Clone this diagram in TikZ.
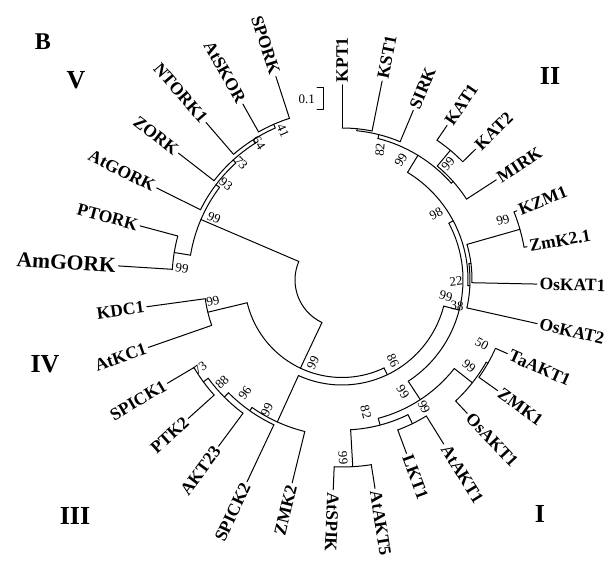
\documentclass[tikz,border=0pt]{standalone}
\usepackage{fontspec}
\setmainfont{Liberation Serif}
\newcommand\Rd[3]{\draw[br] (#1:#2) -- (#1:#3);}
\newcommand\Ar[3]{\draw[br] (#2:#1) arc[start angle=#2,end angle=#3,radius=#1];}
% right-half leaf: name, angle, rnode, rtip, text
\newcommand\LR[5]{\draw[br] (#2:#3) -- (#2:#4);
  \node[leaf,anchor=west,rotate=#2] (#1) at (#2:#4) {#5};}
% left-half leaf: name, angle, rotation, rnode, rtip, text
\newcommand\LL[6]{\draw[br] (#2:#4) -- (#2:#5);
  \node[leaf,anchor=east,rotate=#3] (#1) at (#2:#5) {#6};}
\newcommand\BS[5]{\node[bs,rotate=#4] (#1) at (#2,#3) {#5};}
\begin{document}
\begin{tikzpicture}[x=1pt,y=1pt,
  br/.style={line width=1pt,line cap=round,line join=round},
  leaf/.style={font=\bfseries\fontsize{17.5}{18}\selectfont,inner sep=2.5pt},
  bigleaf/.style={font=\bfseries\fontsize{21.5}{22}\selectfont,inner sep=2.5pt},
  bs/.style={font=\fontsize{13}{13}\selectfont,inner sep=0pt},
  clade/.style={font=\bfseries\fontsize{26}{26}\selectfont,inner sep=0pt}]
\useasboundingbox (0,0) rectangle (616,564);
\begin{scope}[shift={(342,284)}]
% root
\Ar{47}{156.8}{244.75}
\Rd{156.8}{47}{153.5}
\Rd{-115.25}{47}{97.5}
% clade V
\Ar{153.5}{142.9}{170.7}
\Rd{170.7}{153.5}{170}
\Ar{170}{165}{176.4}
\LL{ptork}{165}{345}{170}{209}{PTORK}
\draw[br] (176.4:170) -- (176.4:224);
\node[bigleaf,anchor=east,rotate=356.4] (amgork) at (176.4:224) {AmGORK};
\Rd{142.9}{153.5}{158}
\Ar{158}{132.2}{153.6}
\LL{atgork}{153.6}{333.6}{158}{207}{AtGORK}
\Rd{132.2}{158}{162}
\Ar{162}{122.25}{142.2}
\LL{zork}{142.2}{322.2}{162}{207}{ZORK}
\Rd{122.25}{162}{166}
\Ar{166}{113.7}{130.8}
\LL{ntork}{130.8}{310.8}{166}{208}{NTORK1}
\Rd{113.7}{166}{170}
\Ar{170}{108}{119.4}
\LL{atskor}{119.4}{299.4}{170}{202}{AtSKOR}
\LL{spork}{108}{288}{170}{214}{SPORK}
% B node
\Ar{97.5}{-166.5}{-64.45}
% clade IV
\Rd{-166.5}{97.5}{138}
\Ar{138}{-172.2}{-160.8}
\LL{kdc}{-172.2}{7.8}{138}{197}{KDC1}
\LL{atkc}{-160.8}{19.2}{138}{205}{AtKC1}
% D node
\Rd{-64.45}{97.5}{105}
\Ar{105}{-114.5}{-14.4}
% clade III
\Rd{-114.5}{105}{156}
\Ar{156}{-125.2}{-103.8}
\LL{zmkb}{-103.8}{76.2}{156}{209}{ZMK2}
\Rd{-125.2}{156}{160}
\Ar{160}{-135.15}{-115.2}
\LL{spickb}{-115.2}{64.8}{160}{223}{SPICK2}
\Rd{-135.15}{160}{166}
\Ar{166}{-143.7}{-126.6}
\LL{akt}{-126.6}{53.4}{166}{207}{AKT23}
\Rd{-143.7}{166}{172}
\Ar{172}{-149.4}{-138}
\LL{ptk}{-138}{42}{172}{207}{PTK2}
\LL{spicka}{-149.4}{30.6}{172}{203}{SPICK1}
% E node
\Rd{-14.4}{105}{121}
\Ar{121}{-56.8}{28}
% clade I
\Rd{-56.8}{121}{143}
\Ar{143}{-75.3}{-38.25}
\Rd{-75.3}{143}{150}
\Ar{150}{-86.7}{-63.9}
\Rd{-86.7}{150}{187}
\Ar{187}{-92.4}{-81}
\LR{atspik}{-92.4}{187}{210}{AtSPIK}
\LR{atakt5}{-81}{187}{211}{AtAKT5}
\Rd{-63.9}{150}{160}
\Ar{160}{-69.6}{-58.2}
\LR{lkt}{-69.6}{160}{185}{LKT1}
\LR{atakt1}{-58.2}{160}{193}{AtAKT1}
\Rd{-38.25}{143}{166}
\Ar{166}{-46.8}{-29.7}
\LR{osakt}{-46.8}{166}{183}{OsAKT1}
\Rd{-29.7}{166}{168}
\Ar{168}{-35.4}{-24}
\LR{zmka}{-35.4}{168}{191}{ZMK1}
\LR{taakt}{-24}{168}{181}{TaAKT1}
% clade II
\Rd{28}{121}{126}
\Ar{126}{-2.6}{58.65}
\Rd{-2.6}{126}{128}
\Ar{128}{-12.6}{7.35}
\LR{oskatb}{-12.6}{128}{200}{OsKAT2}
\Rd{7.35}{128}{130}
\Ar{130}{-1.2}{15.9}
\LR{oskata}{-1.2}{130}{195}{OsKAT1}
\Rd{15.9}{130}{185}
\Ar{185}{10.2}{21.6}
\LR{kzm}{21.6}{185}{188}{KZM1}
\LR{zmk21}{10.2}{185}{188}{ZmK2.1}
\Rd{58.65}{126}{146}
\Ar{146}{41.55}{75.75}
\Rd{41.55}{146}{148.5}
\Ar{148.5}{33}{50.1}
\LR{mirk}{33}{148.5}{184}{MIRK}
\Rd{50.1}{148.5}{169}
\Ar{169}{44.4}{55.8}
\LR{kata}{55.8}{169}{187}{KAT1}
\LR{katb}{44.4}{169}{187}{KAT2}
\Rd{75.75}{146}{150}
\Ar{150}{67.2}{84.3}
\LR{sirk}{67.2}{150}{184}{SIRK}
\Rd{84.3}{150}{152}
\Ar{152}{78.6}{90}
\LR{kpt}{90}{152}{195}{KPT1}
\LR{kst}{78.6}{152}{203}{KST1}
\end{scope}
% bootstrap values
\BS{b41}{283}{433}{293.7}{41}
\BS{b64}{259}{421}{302.25}{64}
\BS{b73v}{241}{401}{312.2}{73}
\BS{b93}{226}{380}{322.9}{93}
\BS{b99v}{214}{346}{336.8}{99}
\BS{b99pa}{182}{296}{350.7}{99}
\BS{b99iv}{213}{263}{13.5}{99}
\BS{b73}{200}{196}{36.3}{73}
\BS{b88}{222}{182}{44.85}{88}
\BS{b96}{245}{171}{54.8}{96}
\BS{b99iii}{267}{154}{65.5}{99}
\BS{b99b}{313}{201}{64.75}{99}
\BS{b86}{393}{203}{-64.45}{86}
\BS{b99c}{403}{172}{-56.8}{99}
\BS{b99la}{424}{157}{-63.9}{99}
\BS{b82w}{366}{152}{-75.3}{82}
\BS{b99sa}{343}{106}{-86.7}{99}
\BS{b99o}{469}{198}{-38.25}{99}
\BS{b50}{482}{220}{-29.7}{50}
\BS{b99e}{446}{268}{-14.4}{99}
\BS{b38}{457}{258}{-2.6}{38}
\BS{b22}{456}{283}{7.35}{22}
\BS{b98}{436}{350}{28}{98}
\BS{b99kz}{503}{344}{15.9}{99}
\BS{b99h}{401}{404}{58.65}{99}
\BS{b99k}{448}{400}{50.1}{99}
\BS{b82p}{380}{414}{84.3}{82}
% scale bar
\coordinate (sb1) at (317,476);
\coordinate (sb2) at (317,454);
\draw[br] (sb1) -- ++(6,0) |- (sb2);
\node[bs,anchor=east] (scale) at (315,465) {0.1};
% clade labels
\node[clade,font=\bfseries\fontsize{24}{24}\selectfont] (lb) at (43,522) {B};
\node[clade] (cV) at (76,484) {V};
\node[clade] (cII) at (550,488) {II};
\node[clade] (cIV) at (45,200) {IV};
\node[clade] (cIII) at (75,48) {III};
\node[clade] (cI) at (540,50) {I};
\end{tikzpicture}
\end{document}
